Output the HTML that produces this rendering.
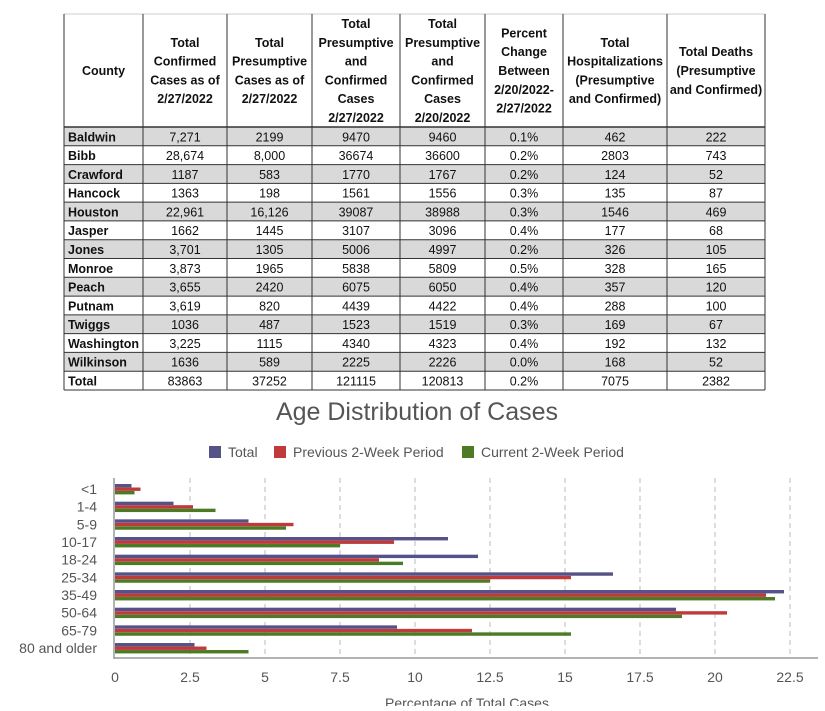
<!DOCTYPE html>
<html><head><meta charset="utf-8"><style>
body{margin:0;background:#fff;width:825px;height:706px;overflow:hidden}
</style></head><body>
<svg width="825" height="706" xmlns="http://www.w3.org/2000/svg" font-family="Liberation Sans, sans-serif">
<rect width="825" height="706" fill="#fff"/>
<g id="tbl"></g>
<g id="chart"></g>
</svg>
<script>
(function(){
const NS="http://www.w3.org/2000/svg";
function el(p,t,a,txt){const e=document.createElementNS(NS,t);for(const k in a)e.setAttribute(k,a[k]);if(txt!==undefined)e.textContent=txt;p.appendChild(e);return e;}
const T=document.getElementById('tbl');
const cols=[64,143,227,312,400,485,563,667,765];
const rows=[["Baldwin","7,271","2199","9470","9460","0.1%","462","222"],["Bibb","28,674","8,000","36674","36600","0.2%","2803","743"],["Crawford","1187","583","1770","1767","0.2%","124","52"],["Hancock","1363","198","1561","1556","0.3%","135","87"],["Houston","22,961","16,126","39087","38988","0.3%","1546","469"],["Jasper","1662","1445","3107","3096","0.4%","177","68"],["Jones","3,701","1305","5006","4997","0.2%","326","105"],["Monroe","3,873","1965","5838","5809","0.5%","328","165"],["Peach","3,655","2420","6075","6050","0.4%","357","120"],["Putnam","3,619","820","4439","4422","0.4%","288","100"],["Twiggs","1036","487","1523","1519","0.3%","169","67"],["Washington","3,225","1115","4340","4323","0.4%","192","132"],["Wilkinson","1636","589","2225","2226","0.0%","168","52"],["Total","83863","37252","121115","120813","0.2%","7075","2382"]];
const tTop=14,hb=127,rh=(390-127)/14;
rows.forEach((r,i)=>{const y=hb+i*rh;if(i%2==0&&i<13)el(T,'rect',{x:64,y:y,width:701,height:rh,fill:'#d9d9d9'});
r.forEach((v,j)=>{const x=j==0?68:(cols[j]+cols[j+1])/2;el(T,'text',{x:x,y:y+rh-4.5,'font-size':12.5,'font-weight':j==0?'bold':'normal','text-anchor':j==0?'start':'middle',fill:'#111'},v);});});
for(let i=0;i<=14;i++){el(T,'line',{x1:64,x2:765,y1:hb+i*rh,y2:hb+i*rh,stroke:'#333','stroke-width':i==0?1.5:1});}
el(T,'line',{x1:64,x2:765,y1:tTop,y2:tTop,stroke:'#ccc'});
cols.forEach(c=>el(T,'line',{x1:c,x2:c,y1:tTop,y2:390,stroke:'#333','stroke-width':1}));
const hdr=[["County"],["Total","Confirmed","Cases as of","2/27/2022"],["Total","Presumptive","Cases as of","2/27/2022"],["Total","Presumptive","and","Confirmed","Cases","2/27/2022"],["Total","Presumptive","and","Confirmed","Cases","2/20/2022"],["Percent","Change","Between","2/20/2022-","2/27/2022"],["Total","Hospitalizations","(Presumptive","and Confirmed)"],["Total Deaths","(Presumptive","and Confirmed)"]];
hdr.forEach((h,j)=>{const cx=(cols[j]+cols[j+1])/2,lh=18.8,mid=(tTop+hb)/2;const y0=mid-(h.length-1)*lh/2;h.forEach((s,k)=>el(T,'text',{x:cx,y:y0+k*lh+4.5,'font-size':12.5,'font-weight':'bold','text-anchor':'middle',fill:'#111'},s));});
const C=document.getElementById('chart');
el(C,'text',{x:417,y:420,'font-size':25,'text-anchor':'middle',fill:'#555'},"Age Distribution of Cases");
const lg=[[209,"#55528a","Total"],[274,"#c0393b","Previous 2-Week Period"],[462,"#4d7a25","Current 2-Week Period"]];
lg.forEach(l=>{el(C,'rect',{x:l[0],y:446,width:12,height:12,fill:l[1]});el(C,'text',{x:l[0]+19,y:457,'font-size':14,fill:'#555'},l[2]);});
const px=v=>115+v*30;
[2.5,5,7.5,10,12.5,15,17.5,20,22.5].forEach(v=>el(C,'line',{x1:px(v),x2:px(v),y1:478,y2:658,stroke:'#bbb','stroke-dasharray':'5,4'}));
const cats=["<1","1-4","5-9","10-17","18-24","25-34","35-49","50-64","65-79","80 and older"];
const d=[[0.55,0.85,0.65],[1.95,2.6,3.35],[4.45,5.95,5.7],[11.1,9.3,7.5],[12.1,8.8,9.6],[16.6,15.2,12.5],[22.3,21.7,22.0],[18.7,20.4,18.9],[9.4,11.9,15.2],[2.65,3.05,4.45]];
const colr=["#55528a","#c0393b","#4d7a25"];
cats.forEach((c,i)=>{const y=484+i*17.67;d[i].forEach((v,k)=>el(C,'rect',{x:115,y:y+k*3.5,width:v*30,height:3.4,fill:colr[k]}));
el(C,'text',{x:97,y:y+10,'font-size':14,'text-anchor':'end',fill:'#555'},c);});
el(C,'line',{x1:114,x2:114,y1:478,y2:659,stroke:'#999','stroke-width':1.5});
el(C,'line',{x1:114,x2:818,y1:658,y2:658,stroke:'#999','stroke-width':1.5});
[0,2.5,5,7.5,10,12.5,15,17.5,20,22.5].forEach(v=>el(C,'text',{x:px(v),y:682,'font-size':14,'text-anchor':'middle',fill:'#555'},String(v)));
el(C,'text',{x:467,y:708,'font-size':14,'text-anchor':'middle',fill:'#555'},"Percentage of Total Cases");
})();
</script>
</body></html>
